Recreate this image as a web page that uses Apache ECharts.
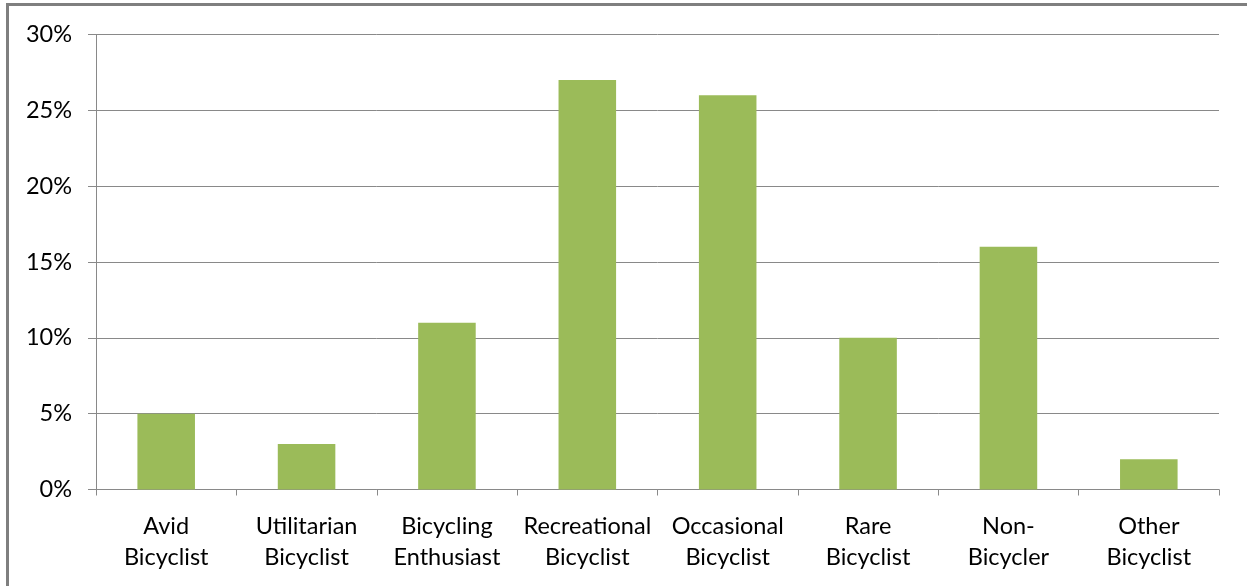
<!DOCTYPE html>
<html>
<head>
<meta charset="utf-8">
<script src="https://cdn.jsdelivr.net/npm/echarts@6/dist/echarts.min.js"></script>
<style>
  html, body { margin: 0; padding: 0; background: #ffffff; }
  #chart { width: 1247px; height: 586px; }
</style>
</head>
<body>
<div id="chart"></div>
<script>
// Bicyclist segments and their share of respondents (%)
const categories = [
  'Avid\nBicyclist', 'Utilitarian\nBicyclist', 'Bicycling\nEnthusiast', 'Recreational\nBicyclist',
  'Occasional\nBicyclist', 'Rare\nBicyclist', 'Non-\nBicycler', 'Other\nBicyclist'
];
const shares = [5, 3, 11, 27, 26, 10, 16, 2];
const yTicks = { min: 0, max: 30, step: 5 };

const FONT = 'Lato, "Open Sans", sans-serif';
const GRAY = '#898989';

const chart = echarts.init(document.getElementById('chart'), null, { renderer: 'canvas' });
chart.setOption({
  animation: false,
  backgroundColor: '#ffffff',
  graphic: [{
    type: 'polyline',
    silent: true,
    shape: { points: [[7.5, 586], [7.5, 4.5], [1247, 4.5]] },
    style: { stroke: '#7f7f7f', lineWidth: 3, fill: null }
  }],
  grid: { left: 96, right: 28, top: 34.5, bottom: 96.5 },
  xAxis: {
    type: 'category',
    data: categories,
    axisLine: { lineStyle: { color: GRAY, width: 1 } },
    axisTick: { show: true, alignWithLabel: false, length: 6, lineStyle: { color: GRAY } },
    axisLabel: {
      interval: 0, margin: 21, color: '#000000', fontFamily: FONT,
      fontSize: 23.5, lineHeight: 31
    }
  },
  yAxis: {
    type: 'value',
    min: yTicks.min, max: yTicks.max, interval: yTicks.step,
    axisLine: { show: true, lineStyle: { color: GRAY, width: 1 } },
    axisTick: { show: true, length: 8, lineStyle: { color: GRAY } },
    splitLine: { lineStyle: { color: GRAY, width: 1 } },
    axisLabel: {
      margin: 24, color: '#000000', fontFamily: FONT, fontSize: 23.5,
      formatter: v => v + '%'
    }
  },
  series: [{
    type: 'bar',
    data: shares,
    barCategoryGap: '59%',
    itemStyle: { color: '#9BBB59' }
  }]
});
</script>
</body>
</html>
